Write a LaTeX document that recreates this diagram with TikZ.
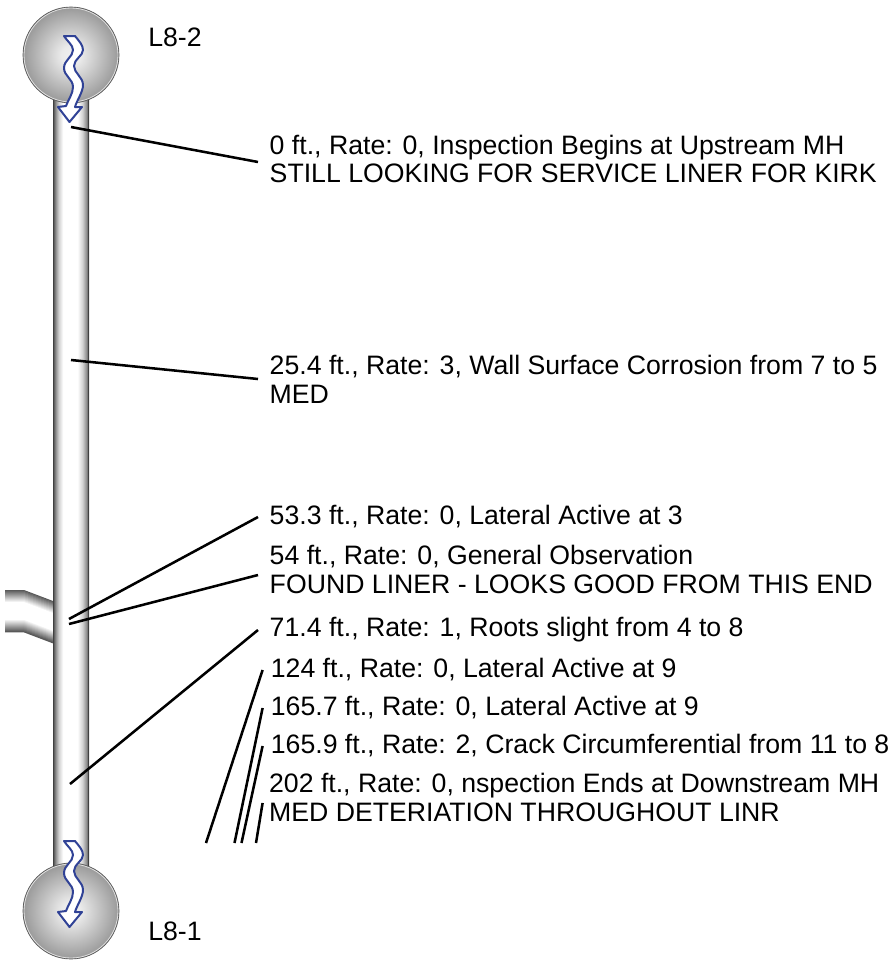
\documentclass[tikz,border=0pt]{standalone}
\usepackage{fontspec}
\setmainfont{Liberation Sans}
\pgfdeclarehorizontalshading{pipeshade}{100bp}{color(0bp)=(black!72);color(25bp)=(black!72);color(29bp)=(black!42);color(33bp)=(black!18);color(39bp)=(white);color(59bp)=(white);color(66bp)=(black!18);color(71bp)=(black!42);color(75bp)=(black!72);color(100bp)=(black!72)}
\pgfdeclareradialshading{ballshade}{\pgfpoint{0bp}{0bp}}{color(0bp)=(black!6);color(5bp)=(black!8);color(25bp)=(black!40);color(50bp)=(black!40)}
\tikzset{
  x=0.75pt,y=-0.75pt,
  label text/.style={anchor=west,align=left,inner ysep=0pt,font=\fontsize{20}{21.7}\selectfont,text=black},
  leader/.style={draw=black,line width=1.9pt},
  pipe body/.style={shading=pipeshade,shading angle=0},
  ball/.style={shading=ballshade},
  ball rim/.style={draw=black!65,line width=0.5pt},
  ball glow/.style={draw=white,line width=0.6pt,opacity=0.7},
  pics/wavyarrow/.style={code={
    \draw[draw=arrowblue,fill=white,line width=1.5pt,line join=round]
      (64,36) -- (75,36)
      .. controls (79,41) and (83,45) .. (83,50)
      .. controls (83,56) and (74,59) .. (74,66)
      .. controls (74,73) and (83,77) .. (83,85)
      .. controls (83,92) and (77,100) .. (75,107)
      -- (82,107) -- (69.5,122) -- (58,107) -- (66,106)
      .. controls (68,100) and (73,94) .. (73,87)
      .. controls (73,79) and (64,76) .. (64,68)
      .. controls (64,60) and (73,57) .. (73,50)
      .. controls (73,45) and (67,41) .. (64,36) -- cycle;
  }}
}
\definecolor{arrowblue}{RGB}{48,66,150}
\begin{document}
\begin{tikzpicture}
\useasboundingbox (0,0) rectangle (888,960);
% lateral
\foreach \i in {0,...,41}{
  \pgfmathsetmacro{\g}{min(1,0.35+0.65*min(\i,41-\i)/12)}
  \pgfmathsetmacro{\ya}{590.7+\i}
  \pgfmathsetmacro{\yb}{601.7+\i}
  \definecolor{stripcol}{gray}{\g}
  \draw[draw=stripcol,line width=1pt] (5,\ya) -- (24,\ya) -- (53,\yb);
}
% pipe
\shade[pipe body] (53,90) rectangle (89,875);
\draw[draw=black!75,line width=0.7pt] (53.3,90) -- (53.3,875) (88.7,90) -- (88.7,875);
% manholes
\shade[ball] (71,55) circle[radius=48];
\draw[ball glow] (71,55) circle[radius=47];
\draw[ball rim] (71,55) circle[radius=48];
\shade[ball] (71,911) circle[radius=48];
\draw[ball glow] (71,911) circle[radius=47];
\draw[ball rim] (71,911) circle[radius=48];
% flow arrows
\pic at (0,0) {wavyarrow};
\pic at (0,805) {wavyarrow};
% labels
\node[label text,inner xsep=0pt] (l82) at (148,37) {L8-2};
\node[label text,inner xsep=0pt] (l81) at (148,931) {L8-1};
\node[label text,inner xsep=8.6pt] (t1) at (258,159) {0 ft., Rate: 0, Inspection Begins at Upstream MH\\STILL LOOKING FOR SERVICE LINER FOR KIRK};
\node[label text,inner xsep=8.6pt] (t2) at (258,379) {25.4 ft., Rate: 3, Wall Surface Corrosion from 7 to 5\\MED};
\node[label text,inner xsep=8.6pt] (t3) at (258,517) {53.3 ft., Rate: 0, Lateral Active at 3};
\node[label text,inner xsep=8.6pt] (t4) at (258,569) {54 ft., Rate: 0, General Observation\\FOUND LINER - LOOKS GOOD FROM THIS END};
\node[label text,inner xsep=8.6pt] (t5) at (258,630) {71.4 ft., Rate: 1, Roots slight from 4 to 8};
\node[label text,inner xsep=6pt] (t6) at (262.6,670) {124 ft., Rate: 0, Lateral Active at 9};
\node[label text,inner xsep=6pt] (t7) at (262.6,708) {165.7 ft., Rate: 0, Lateral Active at 9};
\node[label text,inner xsep=6pt] (t8) at (262.6,746) {165.9 ft., Rate: 2, Crack Circumferential from 11 to 8};
\node[label text,inner xsep=4.7pt] (t9) at (262.6,797) {202 ft., Rate: 0, nspection Ends at Downstream MH\\MED DETERIATION THROUGHOUT LINR};
% free ends of the leaders
\coordinate (c1) at (71,127);
\coordinate (c2) at (71,360);
\coordinate (c3) at (69,619);
\coordinate (c4) at (69,624);
\coordinate (c5) at (70,784);
\coordinate (c6) at (206,843);
\coordinate (c7) at (234.5,843);
\coordinate (c8) at (241.5,843);
\coordinate (c9) at (256,843);
% leaders
\draw[leader] (c1) -- ([yshift=-2.25pt]t1.west);
\draw[leader] (c2) -- (t2.west);
\draw[leader] (c3) -- (t3.west);
\draw[leader] (c4) -- ([yshift=-4.5pt]t4.west);
\draw[leader] (c5) -- (t5.west);
\draw[leader] (c6) -- (t6.west);
\draw[leader] (c7) -- (t7.west);
\draw[leader] (c8) -- (t8.west);
\draw[leader] (c9) -- ([yshift=-4.5pt]t9.west);
\end{tikzpicture}
\end{document}
